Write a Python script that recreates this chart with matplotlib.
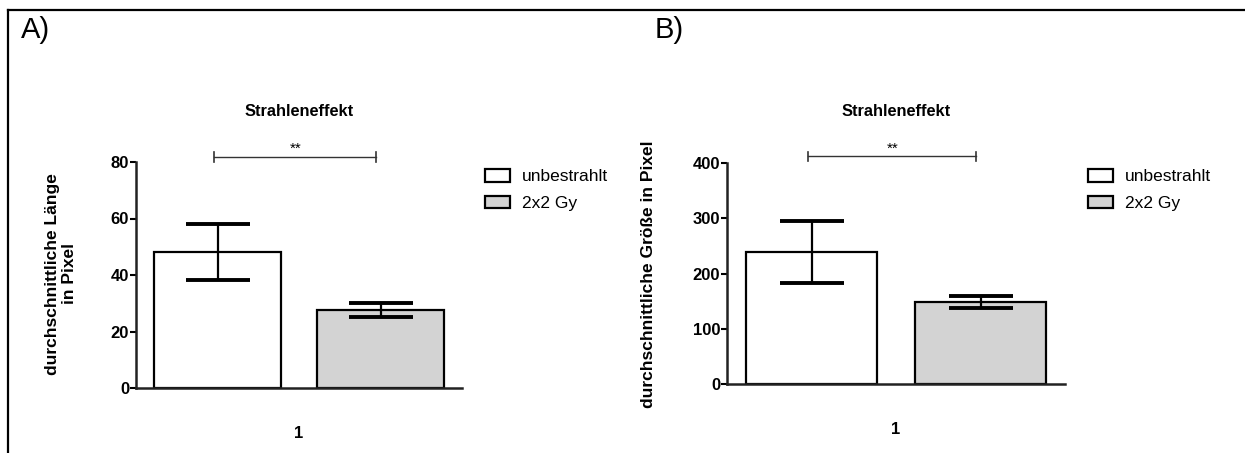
import matplotlib
matplotlib.use("Agg")
import matplotlib.pyplot as plt
from matplotlib.lines import Line2D

plt.rcParams['font.family'] = ['Liberation Sans', 'DejaVu Sans']

# ---- data ----
groups = ["unbestrahlt", "2x2 Gy"]
colors = ["white", "#d3d3d3"]
xtick_label = ["1"]
title = "Strahleneffekt"

laenge_mean = [48.2, 27.6]
laenge_err = [10.0, 2.4]
laenge_ticks = [0, 20, 40, 60, 80]

groesse_mean = [238.5, 148.5]
groesse_err = [56.0, 10.5]
groesse_ticks = [0, 100, 200, 300, 400]

W, H = 1245, 453
fig = plt.figure(figsize=(W / 100, H / 100), dpi=100)


def px(x, y):
    return x / W, 1 - y / H


def panel(rect, means, errs, ticks, ylabel, ylabel_x, letter, letter_x, legend_x, sig_y, sig_h):
    l, t, r, b = rect
    ax = fig.add_axes([l / W, 1 - b / H, (r - l) / W, (b - t) / H])
    pos = [0, 1]
    bars = ax.bar(pos, means, width=0.78, color=colors, edgecolor='black',
                  linewidth=1.6, zorder=2, label=None)
    for p, m, e in zip(pos, means, errs):
        ax.errorbar(p, m, yerr=e, fmt='none', ecolor='black', elinewidth=1.6,
                    capsize=23, capthick=2.8, zorder=3)
    ax.set_xlim(-0.5, 1.5)
    ax.set_ylim(ticks[0], ticks[-1])
    ax.set_yticks(ticks)
    ax.set_yticklabels([str(v) for v in ticks], fontsize=12, fontweight='bold')
    ax.set_xticks([0.5])
    ax.set_xticklabels(xtick_label, fontsize=12, fontweight='bold')
    ax.tick_params(axis='x', length=0, pad=27)
    ax.tick_params(axis='y', length=4, width=1.5, pad=1)
    for s in ['top', 'right']:
        ax.spines[s].set_visible(False)
    for s in ['left', 'bottom']:
        ax.spines[s].set_linewidth(1.8)
        ax.spines[s].set_color('#222222')
    # significance bracket
    x0, x1 = -0.02, 0.975
    ax.plot([x0, x1], [sig_y, sig_y], color='#333333', lw=1.0, clip_on=False)
    for xx in (x0, x1):
        ax.plot([xx, xx], [sig_y - sig_h, sig_y + sig_h], color='#333333', lw=1.2, clip_on=False)
    ax.text((x0 + x1) / 2, sig_y + sig_h * 0.1, "**", ha='center', va='bottom', fontsize=11)
    # title
    cx = (l + r) / 2
    fig.text(*px(cx, 112), title, ha='center', va='center', fontsize=11.8, fontweight='bold')
    # y label
    fig.text(*px(ylabel_x, 274), ylabel, ha='center', va='center', rotation=90,
             fontsize=12.5, fontweight='bold', multialignment='center', linespacing=1.2)
    # panel letter
    fig.text(*px(letter_x, 30), letter, ha='left', va='center', fontsize=21)
    # legend
    ax.legend(bars, groups, loc='upper left', bbox_to_anchor=px(legend_x, 169),
              bbox_transform=fig.transFigure, frameon=False, fontsize=12.5,
              handlelength=1.45, handleheight=0.75, handletextpad=0.7,
              labelspacing=0.65, borderpad=0, borderaxespad=0)
    return ax


panel((136, 162, 462, 388), laenge_mean, laenge_err, laenge_ticks,
      "durchschnittliche Länge\nin Pixel", 61, "A)", 21, 485, 81.9, 1.8)
panel((727, 163, 1065, 384), groesse_mean, groesse_err, groesse_ticks,
      "durchschnittliche Größe in Pixel", 649, "B)", 655, 1088, 411.8, 9.0)

# outer frame (top and left)
fig.add_artist(Line2D([8 / W, 1.0], [1 - 10 / H, 1 - 10 / H], color='black', lw=1.6,
                      transform=fig.transFigure))
fig.add_artist(Line2D([8 / W, 8 / W], [1 - 10 / H, 0], color='black', lw=1.6,
                      transform=fig.transFigure))

fig.savefig("out.png", dpi=100)
